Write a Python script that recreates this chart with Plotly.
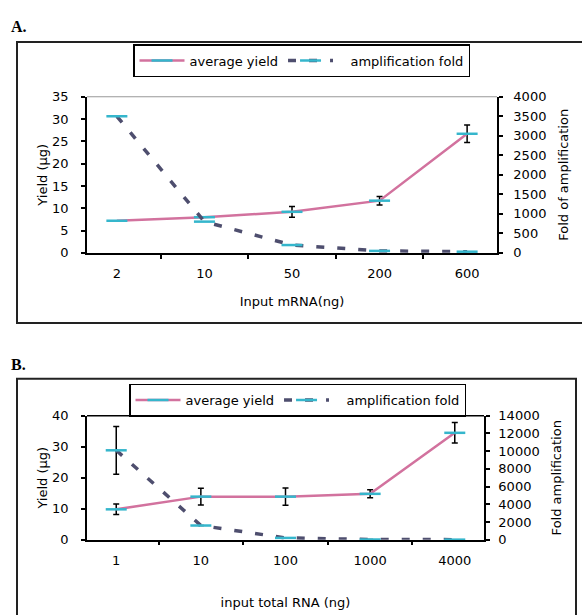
import plotly.graph_objects as go

# ---------------- data ----------------
cats_A = ["2", "10", "50", "200", "600"]
yield_A = [7.2, 8.0, 9.2, 11.7, 26.7]
yield_A_err = [0, 0, 1.2, 0.95, 1.95]
fold_A = [3500, 800, 200, 50, 30]

cats_B = ["1", "10", "100", "1000", "4000"]
yield_B = [9.8, 13.9, 13.9, 14.8, 34.5]
yield_B_err = [1.7, 2.7, 2.8, 1.3, 3.3]
fold_B = [10100, 1600, 200, 20, 5]
fold_B_err = [2700, 0, 0, 0, 0]

W, H = 582, 615
PINK = "#D2729E"
DARK = "#4E4E6E"
CYAN = "#35B6CC"
FONT = "DejaVu Sans"


def px(x):
    return x / W


def py(y):
    return 1 - y / H


fig = go.Figure()

marker = dict(symbol="line-ew", size=15, line=dict(color=CYAN, width=2.5), color=CYAN)
err_style = dict(type="data", color="black", thickness=1.5, width=3, visible=True)

fig.add_trace(go.Scatter(
    x=cats_A, y=yield_A, name="average yield", mode="lines+markers",
    line=dict(color=PINK, width=2.5), marker=marker,
    error_y=dict(array=yield_A_err, **err_style),
    xaxis="x", yaxis="y", legend="legend", cliponaxis=False))
fig.add_trace(go.Scatter(
    x=cats_A, y=fold_A, name="   amplification fold", mode="lines+markers",
    line=dict(color=DARK, width=3.5, dash="8px,13px"), marker=marker,
    xaxis="x", yaxis="y2", legend="legend", cliponaxis=False))

fig.add_trace(go.Scatter(
    x=cats_B, y=yield_B, name="average yield", mode="lines+markers",
    line=dict(color=PINK, width=2.5), marker=marker,
    error_y=dict(array=yield_B_err, **err_style),
    xaxis="x2", yaxis="y3", legend="legend2", cliponaxis=False))
fig.add_trace(go.Scatter(
    x=cats_B, y=fold_B, name="   amplification fold", mode="lines+markers",
    line=dict(color=DARK, width=3.5, dash="8px,13px"), marker=marker,
    error_y=dict(array=fold_B_err, **err_style),
    xaxis="x2", yaxis="y4", legend="legend2", cliponaxis=False))

axis_common = dict(showline=True, linecolor="black", linewidth=1.5, ticks="outside",
                   ticklen=4, tickwidth=1.5, tickcolor="black", showgrid=False,
                   zeroline=False, tickfont=dict(family=FONT, size=13, color="black"),
                   title_font=dict(family=FONT, size=13, color="black"))

fig.update_layout(
    width=W, height=H, margin=dict(l=0, r=0, t=0, b=0),
    paper_bgcolor="white", plot_bgcolor="white",
    font=dict(family=FONT, size=13, color="black"),
    xaxis=dict(domain=[px(87), px(497)], anchor="y", type="category", tickson="boundaries",
               title=dict(text="Input mRNA(ng)", standoff=17), ticklabelstandoff=8, **axis_common),
    yaxis=dict(domain=[py(252), py(92)], anchor="x", range=[0, 35], dtick=5,
               title=dict(text="Yield (µg)", standoff=2), ticklabelstandoff=10, **axis_common),
    yaxis2=dict(overlaying="y", side="right", anchor="x", range=[0, 4000], dtick=500,
                tickformat="d",
                title=dict(text="Fold of amplification", standoff=13), ticklabelstandoff=8,
                **axis_common),
    xaxis2=dict(domain=[px(87), px(484)], anchor="y3", type="category", tickson="boundaries",
                title=dict(text="input total RNA (ng)", standoff=31), ticklabelstandoff=8,
                **axis_common),
    yaxis3=dict(domain=[py(546), py(419)], anchor="x2", range=[0, 40], dtick=10,
                title=dict(text="Yield (µg)", standoff=2), ticklabelstandoff=10, **axis_common),
    yaxis4=dict(overlaying="y3", side="right", anchor="x2", range=[0, 14000], dtick=2000,
                tickformat="d",
                title=dict(text="Fold amplification", standoff=13), ticklabelstandoff=6,
                **axis_common),
    legend=dict(orientation="h", x=px(133), y=py(38), xanchor="left", yanchor="top",
                bordercolor="black", borderwidth=1.5, bgcolor="white",
                font=dict(family=FONT, size=13), itemwidth=45),
    legend2=dict(orientation="h", x=px(129), y=py(386), xanchor="left", yanchor="top",
                 bordercolor="black", borderwidth=1.5, bgcolor="white",
                 font=dict(family=FONT, size=13), itemwidth=45),
    showlegend=True,
)

# panel frames and plot-area top borders
shapes = [
    dict(type="rect", xref="paper", yref="paper", x0=px(17), x1=px(590), y0=py(324), y1=py(36),
         line=dict(color="#222", width=2), layer="below"),
    dict(type="rect", xref="paper", yref="paper", x0=px(17), x1=px(576), y0=py(630), y1=py(381),
         line=dict(color="#222", width=2), layer="below"),
    dict(type="line", xref="paper", yref="paper", x0=px(87), x1=px(497), y0=py(92), y1=py(92),
         line=dict(color="#999", width=1)),
    dict(type="line", xref="paper", yref="paper", x0=px(87), x1=px(484), y0=py(419), y1=py(419),
         line=dict(color="black", width=1.5)),
]
fig.update_layout(shapes=shapes)

fig.add_annotation(text="<b>A.</b>", x=px(9), y=py(20), xref="paper", yref="paper",
                   xanchor="left", yanchor="middle", showarrow=False,
                   font=dict(family="Liberation Serif", size=16, color="black"))
fig.add_annotation(text="<b>B.</b>", x=px(9), y=py(366), xref="paper", yref="paper",
                   xanchor="left", yanchor="middle", showarrow=False,
                   font=dict(family="Liberation Serif", size=16, color="black"))

fig.write_html("out.html", config={"displayModeBar": False},
               post_script="document.body.style.margin='0';document.body.style.overflow='hidden';")
